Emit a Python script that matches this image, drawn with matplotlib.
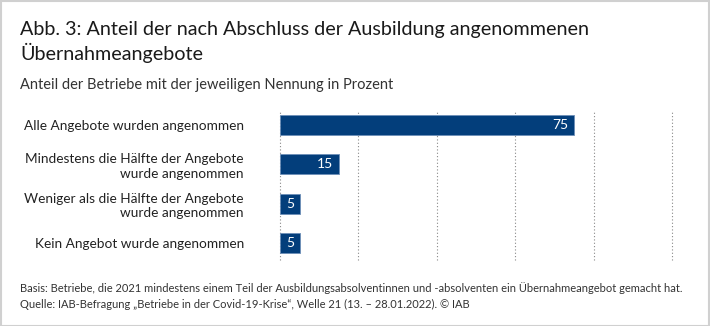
import matplotlib
matplotlib.use("Agg")
import matplotlib.pyplot as plt
from matplotlib.patches import Rectangle

categories = [
    "Alle Angebote wurden angenommen",
    "Mindestens die Hälfte der Angebote\nwurde angenommen",
    "Weniger als die Hälfte der Angebote\nwurde angenommen",
    "Kein Angebot wurde angenommen",
]
values = [75, 15, 5, 5]
xticks = [0, 20, 40, 60, 80, 100]

title_lines = ["Abb. 3: Anteil der nach Abschluss der Ausbildung angenommenen",
               "Übernahmeangebote"]
subtitle = "Anteil der Betriebe mit der jeweiligen Nennung in Prozent"
footer1 = "Basis: Betriebe, die 2021 mindestens einem Teil der Ausbildungsabsolventinnen und -absolventen ein Übernahmeangebot gemacht hat."
footer2 = "Quelle: IAB-Befragung „Betriebe in der Covid-19-Krise“, Welle 21 (13. – 28.01.2022). © IAB"

plt.rcParams['font.family'] = ['Lato', 'DejaVu Sans']
W, H = 710, 326
fig = plt.figure(figsize=(W/100, H/100), dpi=100)
fig.patches.append(Rectangle((0.5/W, 0.5/H), 1-1.5/W, 1-1.5/H, transform=fig.transFigure,
                             fill=False, edgecolor='#d0d0d0', linewidth=1.5))

ax = fig.add_axes([280/W, 1-260/H, (672-280)/W, (260-112)/H])
ypos = list(range(len(categories)))
color = '#033e7b'
ax.barh(ypos, values, height=0.51, color=color, edgecolor='#6d8fb8', linewidth=0.6, zorder=3)
for y, v in zip(ypos, values):
    if v > 10:
        ax.text(v - 1.4, y, str(v), ha='right', va='center', color='white', fontsize=10, zorder=4)
    else:
        ax.text(v / 2, y, str(v), ha='center', va='center', color='white', fontsize=10, zorder=4)
ax.set_xlim(0, 100)
ax.set_ylim(3.43, -0.33)
ax.set_xticks([])
ax.set_yticks(ypos)
ax.set_yticklabels(categories, fontsize=9.8, color='#222222', ha='right', linespacing=1.25)
ax.tick_params(axis='y', length=0, pad=26)
for xt in xticks:
    ax.axvline(xt, linestyle=(0, (1, 2)), color='#888888', linewidth=0.8, zorder=0, clip_on=False)
for s in ax.spines.values():
    s.set_visible(False)

fig.text(20/W, 1-29/H, title_lines[0], fontsize=14.2, color='#1a1a1a', va='center', ha='left')
fig.text(20/W, 1-53/H, title_lines[1], fontsize=14.2, color='#1a1a1a', va='center', ha='left')
fig.text(20/W, 1-85/H, subtitle, fontsize=10.5, color='#333333', va='center', ha='left')
fig.text(20/W, 1-288/H, footer1, fontsize=8.0, color='#333333', va='center', ha='left')
fig.text(20/W, 1-304/H, footer2, fontsize=8.0, color='#333333', va='center', ha='left')

fig.savefig("out.png", dpi=100)
